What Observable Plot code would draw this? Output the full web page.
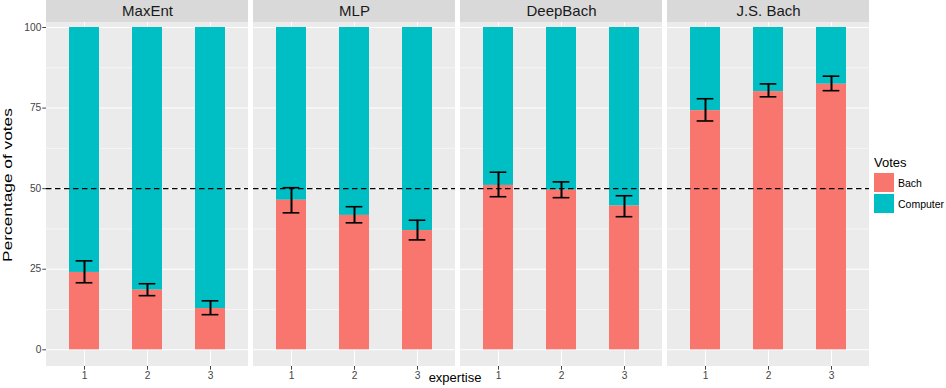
<!DOCTYPE html>
<html><head><meta charset="utf-8">
<script src="https://cdn.jsdelivr.net/npm/d3@7"></script>
<script src="https://cdn.jsdelivr.net/npm/@observablehq/plot@0.6"></script>
<style>
html,body{margin:0;padding:0;background:#fff;overflow:hidden}
#wrap{position:relative;width:946px;height:388px;font-family:"Liberation Sans",Arial,Helvetica,sans-serif}
#wrap svg{position:absolute;left:0;top:0}
.ylab{position:absolute;left:7px;top:185px;transform:translate(-50%,-50%) rotate(-90deg) scaleX(1.33);font-size:13px;line-height:1;color:#000;white-space:nowrap}
.xlab{position:absolute;left:455px;top:370px;transform:translateX(-50%);font-size:13px;color:#000;white-space:nowrap}
.legend{position:absolute;left:874px;top:155px;color:#000}
.legend .title{font-size:13px;line-height:15px;margin-bottom:3px}
.legend .row{display:flex;align-items:center;height:19px;margin-bottom:2px}
.legend .sw{width:20px;height:19px;margin-right:4px}
.legend .lab{font-size:10.5px}
</style></head><body><div id="wrap"></div><script>
const models = ["MaxEnt", "MLP", "DeepBach", "J.S. Bach"];
const expertise = ["1", "2", "3"];
const votes = ["Bach", "Computer"];
const voteColors = ["#F8766D", "#00BFC4"];
// Bach vote percentage, order: model x expertise
const bachPct = [24.0, 18.5, 12.8, 46.4, 41.7, 37.0, 51.0, 49.5, 44.6, 74.2, 80.1, 82.4];
const errLow  = [20.8, 16.8, 10.9, 42.5, 39.4, 34.1, 47.5, 47.2, 41.3, 71.0, 78.5, 80.4];
const errHigh = [27.6, 20.5, 15.2, 50.3, 44.4, 40.2, 55.1, 52.1, 47.8, 77.9, 82.5, 84.9];
const yTicks = [0, 25, 50, 75, 100];
const yMinor = [12.5, 37.5, 62.5, 87.5];
const total = 100;
const refLine = [50];

const rows = [];
models.forEach((m, i) => expertise.forEach((e, j) => {
  const k = i * 3 + j;
  rows.push({model: m, expertise: e, bach: bachPct[k], lo: errLow[k], hi: errHigh[k]});
}));

const panelTop = 101.55, yTop = 108.38, yBottom = -5.18;
const font = '"Liberation Sans", Arial, Helvetica, sans-serif';

const plot = Plot.plot({
  width: 946, height: 388,
  marginLeft: 45, marginRight: 77, marginTop: 0, marginBottom: 22,
  style: {fontFamily: font, background: "transparent", overflow: "visible"},
  fx: {domain: models, paddingInner: 0.0265, paddingOuter: 0, axis: null, label: null},
  x: {domain: expertise, paddingInner: 0.52, paddingOuter: 0.36, label: null},
  y: {domain: [yBottom, yTop], nice: false, zero: false, label: null},
  marks: [
    Plot.rect([0], {y1: yBottom, y2: panelTop, fill: "#EBEBEB"}),
    Plot.rect([0], {y1: panelTop, y2: yTop, fill: "#D9D9D9"}),
    Plot.ruleY(yMinor, {stroke: "#fff", strokeWidth: 0.55}),
    Plot.ruleY(yTicks, {stroke: "#fff", strokeWidth: 1.07}),
    Plot.ruleX(expertise, {x: d => d, y1: yBottom, y2: panelTop, stroke: "#fff", strokeWidth: 1.07}),
    Plot.text(models, {fx: d => d, y: 104.97, text: d => d, fontSize: 15, fill: "#1A1A1A"}),
    Plot.barY(rows, {fx: "model", x: "expertise", y1: "bach", y2: total, fill: voteColors[1]}),
    Plot.barY(rows, {fx: "model", x: "expertise", y1: 0, y2: "bach", fill: voteColors[0]}),
    Plot.ruleY(refLine, {stroke: "#000", strokeWidth: 1.1, strokeDasharray: "5.5,3.5"}),
    Plot.ruleX(rows, {fx: "model", x: "expertise", y1: "lo", y2: "hi", stroke: "#000", strokeWidth: 2}),
    Plot.tickY(rows, {fx: "model", x: "expertise", y: "lo", stroke: "#000", strokeWidth: 1.6, insetLeft: 6.65, insetRight: 6.65}),
    Plot.tickY(rows, {fx: "model", x: "expertise", y: "hi", stroke: "#000", strokeWidth: 1.6, insetLeft: 6.65, insetRight: 6.65}),
    Plot.axisY({ticks: yTicks, tickSize: 3.7, tickPadding: 1.5, label: null, fontSize: 10.2, color: "#444"}),
    Plot.axisX({tickSize: 3.7, tickPadding: 1.5, label: null, fontSize: 10.2, color: "#444"})
  ]
});

const wrap = document.getElementById("wrap");
wrap.appendChild(plot);

const yl = document.createElement("div");
yl.className = "ylab"; yl.textContent = "Percentage of votes";
wrap.appendChild(yl);
const xl = document.createElement("div");
xl.className = "xlab"; xl.textContent = "expertise";
wrap.appendChild(xl);

const lg = document.createElement("div");
lg.className = "legend";
const t = document.createElement("div"); t.className = "title"; t.textContent = "Votes"; lg.appendChild(t);
votes.forEach((v, i) => {
  const r = document.createElement("div"); r.className = "row";
  const s = document.createElement("div"); s.className = "sw"; s.style.background = voteColors[i];
  const l = document.createElement("div"); l.className = "lab"; l.textContent = v;
  r.appendChild(s); r.appendChild(l); lg.appendChild(r);
});
wrap.appendChild(lg);
</script></body></html>
